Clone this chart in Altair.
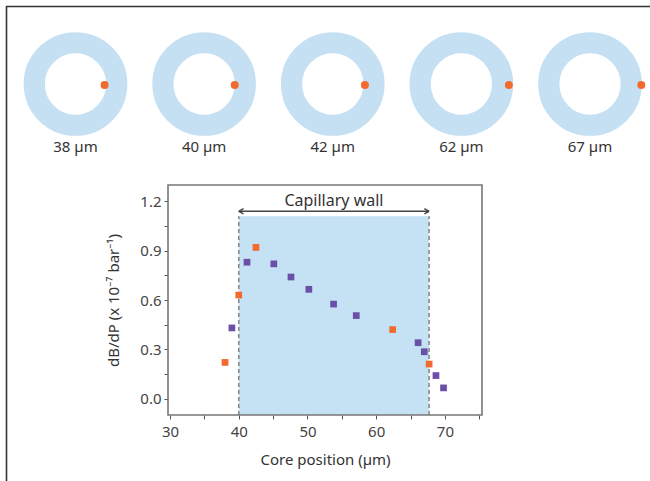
import math
import altair as alt
import pandas as pd

FONT = "Noto Sans"
RING_BLUE = "#c5e0f3"
ORANGE = "#f26a2e"
PURPLE = "#6a50a7"

# ---------------- data ----------------
ring_labels = ["38 µm", "40 µm", "42 µm", "62 µm", "67 µm"]
ring_pos = [38, 40, 42, 62, 67]
ring_idx = [0, 1, 2, 3, 4]

wall_inner = 40.0
wall_outer = 67.7

orange_x = [38.0, 40.0, 42.5, 62.4, 67.7]
orange_y = [0.22, 0.63, 0.92, 0.42, 0.21]

purple_x = [39.0, 41.2, 45.1, 47.6, 50.2, 53.8, 57.1, 66.1, 67.0, 68.7, 69.8]
purple_y = [0.43, 0.83, 0.82, 0.74, 0.665, 0.575, 0.505, 0.34, 0.285, 0.14, 0.065]

x_ticks = [30, 35, 40, 45, 50, 55, 60, 65, 70, 75]
y_ticks = [0.0, 0.15, 0.3, 0.45, 0.6, 0.75, 0.9, 1.05, 1.2]

x_domain = [29.7, 75.4]
y_domain = [-0.1, 1.3]
wall_top = 1.11
arrow_y = 1.14
label_y = 1.2

# ---------------- layout ----------------
W, H = 644, 475
ring_spacing = 168
ring_range = [69.5, 584]
px_per_um = (ring_range[1] - ring_range[0]) / (4 * ring_spacing)
r_in = wall_inner * px_per_um
r_out = wall_outer * px_per_um
r_mid = (r_in + r_out) / 2
ring_width = r_out - r_in

# ---------------- border ----------------
one = alt.Data(values=[{}])
border_l = alt.Chart(one).mark_rule(color="#333", strokeWidth=1.6).encode(
    x=alt.value(0.5), y=alt.value(0), y2=alt.value(H))
border_t = alt.Chart(one).mark_rule(color="#333", strokeWidth=1.6).encode(
    x=alt.value(0), x2=alt.value(W), y=alt.value(0.5))

# ---------------- rings ----------------
ring_df = pd.DataFrame({"label": ring_labels, "pos": ring_pos, "idx": ring_idx})
ring_x = alt.Scale(domain=[0, 4 * ring_spacing], range=ring_range, nice=False, zero=False)

base_r = alt.Chart(ring_df).transform_calculate(
    cx=f"datum.idx * {ring_spacing}",
    dotx=f"datum.idx * {ring_spacing} + datum.pos",
)

rings_m = base_r.mark_point(shape="circle", filled=False, size=(2 * r_mid) ** 2,
                            strokeWidth=ring_width, color=RING_BLUE, opacity=1).encode(
    x=alt.X("cx:Q", scale=ring_x, axis=None),
    y=alt.value(78),
)
dots = base_r.mark_circle(size=64, color=ORANGE, opacity=1).encode(
    x=alt.X("dotx:Q", scale=ring_x, axis=None),
    y=alt.value(79),
)
labels = base_r.mark_text(fontSize=15, font=FONT, color="#333", baseline="middle").encode(
    x=alt.X("cx:Q", scale=ring_x, axis=None),
    y=alt.value(141),
    text="label:N",
)
rings = alt.layer(rings_m, dots, labels)

# ---------------- scatter ----------------
sx = alt.Scale(domain=x_domain, range=[162, 476], nice=False, zero=False)
sy = alt.Scale(domain=y_domain, range=[409, 179], nice=False, zero=False)

axis_common = dict(
    grid=False, domain=False, tickSize=4, tickColor="#555", tickWidth=1,
    labelColor="#444", labelFontSize=15, labelFont=FONT,
    labelOverlap=False, labelFlush=False,
    titleFont=FONT, titleFontSize=15, titleColor="#333", titleFontWeight="normal",
)
xaxis = alt.Axis(orient="bottom", offset=-66, values=x_ticks,
                 labelExpr="datum.value % 10 == 0 ? datum.label : ''",
                 labelPadding=5,
                 title="Core position (µm)", titlePadding=13, **axis_common)
yaxis = alt.Axis(orient="left", offset=-162, values=y_ticks,
                 labelExpr="abs(round(datum.value * 100) % 30) < 1 ? format(datum.value, '.1f') : ''",
                 labelPadding=3,
                 title="dB/dP (x 10⁻⁷ bar⁻¹)", titlePadding=18, **axis_common)


def X(f):
    return alt.X(f, type="quantitative", scale=sx, axis=xaxis)


def Y(f):
    return alt.Y(f, type="quantitative", scale=sy, axis=yaxis)


wall_df = pd.DataFrame({"x0": [wall_inner], "x1": [wall_outer],
                        "y0": [y_domain[0]], "y1": [wall_top]})
shade = alt.Chart(wall_df).mark_rect(color="#c5e1f4", opacity=1).encode(
    x=X("x0"), x2="x1", y=Y("y0"), y2="y1")

edge_df = pd.DataFrame({"x": [wall_inner, wall_outer],
                        "y0": [y_domain[0]] * 2, "y1": [wall_top] * 2})
edges = alt.Chart(edge_df).mark_rule(color="#8a8a8a", strokeWidth=1.6, strokeDash=[4, 3]).encode(
    x=X("x"), y=Y("y0"), y2="y1")

arrow_df = pd.DataFrame({"x0": [wall_inner], "x1": [wall_outer], "y": [arrow_y]})
arrow = alt.Chart(arrow_df).mark_rule(color="#444", strokeWidth=1.4).encode(
    x=X("x0"), x2="x1", y=Y("y"))
head_l = alt.Chart(arrow_df).mark_point(shape="M0,0L1,-0.55M0,0L1,0.55", size=90, filled=False,
                                        color="#444", strokeWidth=1.4, opacity=1).encode(
    x=X("x0"), y=Y("y"))
head_r = alt.Chart(arrow_df).mark_point(shape="M0,0L-1,-0.55M0,0L-1,0.55", size=90, filled=False,
                                        color="#444", strokeWidth=1.4, opacity=1).encode(
    x=X("x1"), y=Y("y"))

title_df = pd.DataFrame({"x": [(wall_inner + wall_outer) / 2], "y": [label_y], "t": ["Capillary wall"]})
wall_text = alt.Chart(title_df).mark_text(fontSize=16, font=FONT, color="#333", baseline="middle").encode(
    x=X("x"), y=Y("y"), text="t:N")

pts_df = pd.concat([
    pd.DataFrame({"x": purple_x, "y": purple_y, "s": "purple"}),
    pd.DataFrame({"x": orange_x, "y": orange_y, "s": "orange"}),
])
points = alt.Chart(pts_df).mark_square(size=45, opacity=1).encode(
    x=X("x"), y=Y("y"),
    color=alt.Color("s:N", scale=alt.Scale(domain=["purple", "orange"], range=[PURPLE, ORANGE]), legend=None),
)

frame_df = pd.DataFrame({"x0": [x_domain[0]], "x1": [x_domain[1]], "y0": [y_domain[0]], "y1": [y_domain[1]]})
frame = alt.Chart(frame_df).mark_rect(fillOpacity=0, stroke="#777", strokeWidth=1.6).encode(
    x=X("x0"), x2="x1", y=Y("y0"), y2="y1")

scatter = alt.layer(shade, edges, arrow, head_l, head_r, wall_text, points, frame)

chart = alt.layer(border_l, border_t, rings, scatter).resolve_scale(
    x="independent", y="independent"
).properties(
    width=W, height=H,
    autosize=alt.AutoSizeParams(type="none"),
    padding={"left": 6, "top": 6, "right": 0, "bottom": 0},
).configure_view(stroke=None)

chart.save("out.html", embed_options={"renderer": "svg", "actions": False})
